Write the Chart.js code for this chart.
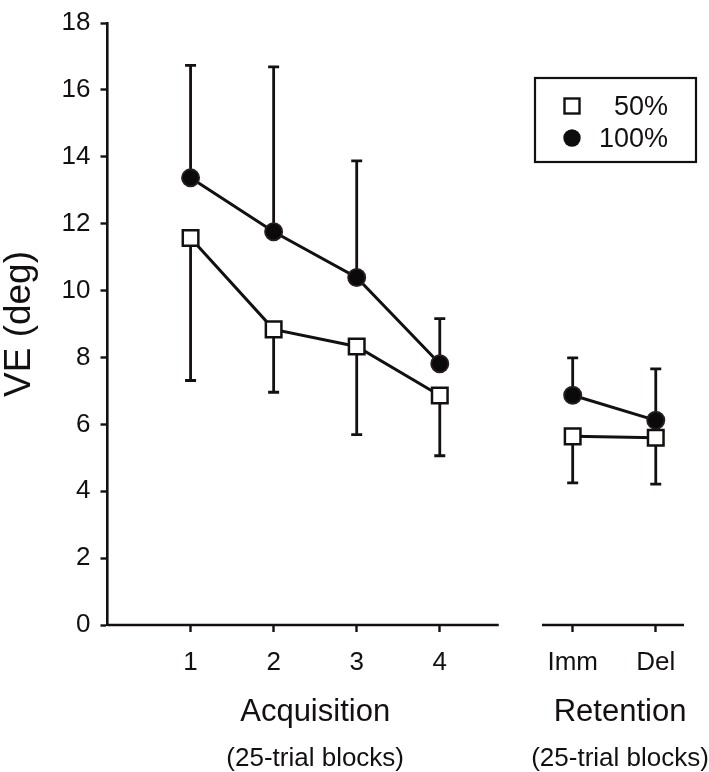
<!DOCTYPE html>
<html>
<head>
<meta charset="utf-8">
<script src="https://cdn.jsdelivr.net/npm/chart.js@4.4.0/dist/chart.umd.min.js"></script>
<style>
  html, body { margin: 0; padding: 0; background: #fff; }
</style>
</head>
<body>
<canvas id="veChart" width="709" height="772"></canvas>
<script>
// blocks on the x axis and where they sit on the (linear) block scale
const blocks = ['1', '2', '3', '4', 'Imm', 'Del'];
const blockPos = [1, 2, 3, 4, 5.6, 6.6];
const yTicks = [0, 2, 4, 6, 8, 10, 12, 14, 16, 18];

// VE (deg), 50% group: means and lower error ends
const ve50 = [11.57, 8.84, 8.33, 6.86, 5.64, 5.60];
const ve50Low = [7.31, 6.96, 5.69, 5.06, 4.25, 4.21];

// VE (deg), 100% group: means and upper error ends
const ve100 = [13.37, 11.76, 10.39, 7.81, 6.87, 6.12];
const ve100High = [16.73, 16.69, 13.88, 9.16, 7.99, 7.66];

const INK = '#141010';
const FONT = "'Liberation Sans', Arial, sans-serif";

const toPoints = vals => vals.map((v, i) => ({ x: blockPos[i], y: v }));
// no line between block 4 and the retention tests
const gapAfterAcq = { borderColor: c => c.p0DataIndex === 3 ? 'rgba(0,0,0,0)' : INK };

// error bars, drawn under the markers
const errorBars = {
    id: 'errorBars',
    beforeDatasetsDraw(chart) {
        const { ctx, scales: { x, y } } = chart;
        ctx.save();
        ctx.strokeStyle = INK;
        ctx.lineWidth = 2.8;
        const draw = (means, ends) => means.forEach((m, i) => {
            const px = x.getPixelForValue(blockPos[i]);
            const y0 = y.getPixelForValue(m);
            const y1 = y.getPixelForValue(ends[i]);
            ctx.beginPath();
            ctx.moveTo(px, y0);
            ctx.lineTo(px, y1);
            ctx.moveTo(px - 5.5, y1);
            ctx.lineTo(px + 5.5, y1);
            ctx.stroke();
        });
        draw(ve50, ve50Low);
        draw(ve100, ve100High);
        ctx.restore();
    }
};

// broken x axis plus the two group titles
const axisPieces = [[0, 4.71], [5.23, 6.94]];
const xTitles = {
    id: 'xTitles',
    afterDraw(chart) {
        const { ctx, scales: { x, y } } = chart;
        const base = y.getPixelForValue(0);
        ctx.save();
        ctx.strokeStyle = INK;
        ctx.lineWidth = 2.6;
        axisPieces.forEach(([a, b]) => {
            ctx.beginPath();
            ctx.moveTo(x.getPixelForValue(a), base);
            ctx.lineTo(x.getPixelForValue(b), base);
            ctx.stroke();
        });
        ctx.fillStyle = INK;
        ctx.textAlign = 'center';
        ctx.textBaseline = 'alphabetic';
        [['Acquisition', 2.5], ['Retention', 6.17]].forEach(([t, v]) => {
            const px = x.getPixelForValue(v);
            ctx.font = '31px ' + FONT;
            ctx.fillText(t, px, 721);
            ctx.font = '26px ' + FONT;
            ctx.fillText('(25-trial blocks)', px, 766);
        });
        ctx.restore();
    }
};

// boxed legend, top right
const boxLegend = {
    id: 'boxLegend',
    afterDraw(chart) {
        const ctx = chart.ctx;
        ctx.save();
        ctx.strokeStyle = INK;
        ctx.lineWidth = 2.2;
        ctx.strokeRect(535, 78, 161, 84);
        // square
        ctx.fillStyle = '#fff';
        ctx.lineWidth = 2.4;
        ctx.fillRect(564.5, 98.5, 15, 15);
        ctx.strokeRect(564.5, 98.5, 15, 15);
        // circle
        ctx.beginPath();
        ctx.arc(572, 138, 8.7, 0, Math.PI * 2);
        ctx.fillStyle = '#0d0d0d';
        ctx.fill();
        ctx.fillStyle = INK;
        ctx.font = '27px ' + FONT;
        ctx.textAlign = 'right';
        ctx.textBaseline = 'alphabetic';
        chart.data.datasets.forEach((ds, i) => ctx.fillText(ds.label, 668, 115 + i * 32));
        ctx.restore();
    }
};

const ctx = document.getElementById('veChart').getContext('2d');
new Chart(ctx, {
    type: 'line',
    data: {
        datasets: [{
            label: '50%',
            data: toPoints(ve50),
            borderColor: INK,
            borderWidth: 3,
            segment: gapAfterAcq,
            pointStyle: 'rect',
            pointRadius: 11,
            pointBorderWidth: 2.5,
            pointBackgroundColor: '#ffffff',
            pointBorderColor: INK
        }, {
            label: '100%',
            data: toPoints(ve100),
            borderColor: INK,
            borderWidth: 3,
            segment: gapAfterAcq,
            pointStyle: 'circle',
            pointRadius: 8.6,
            pointBorderWidth: 1.8,
            pointBackgroundColor: '#0a0a0a',
            pointBorderColor: '#2a1f1f'
        }]
    },
    options: {
        responsive: false,
        animation: false,
        layout: { padding: { top: 14, right: 25, left: 0, bottom: 0 } },
        plugins: {
            legend: { display: false },
            tooltip: { enabled: false }
        },
        scales: {
            x: {
                type: 'linear',
                min: 0,
                max: 6.94,
                afterBuildTicks: s => { s.ticks = blockPos.map(v => ({ value: v })); },
                afterFit: s => { s.height = 147; },
                border: { display: false },
                grid: { drawOnChartArea: false, tickLength: 7, tickWidth: 2.4, tickColor: INK },
                ticks: {
                    autoSkip: false,
                    maxRotation: 0,
                    padding: 18,
                    color: INK,
                    font: { family: FONT, size: 26, lineHeight: 1 },
                    callback: (v, i) => blocks[i]
                }
            },
            y: {
                min: 0,
                max: 18,
                afterBuildTicks: s => { s.ticks = yTicks.map(v => ({ value: v })); },
                afterFit: s => { s.width = 107.5; },
                border: { display: true, color: INK, width: 2.6 },
                grid: { drawOnChartArea: false, tickLength: 7, tickWidth: 2.4, tickColor: INK },
                ticks: {
                    padding: 10,
                    color: INK,
                    font: { family: FONT, size: 26, lineHeight: 1 }
                },
                title: {
                    display: true,
                    text: 'VE (deg)',
                    color: INK,
                    padding: { top: 1, bottom: 0 },
                    font: { family: FONT, size: 37, lineHeight: 1 }
                }
            }
        }
    },
    plugins: [errorBars, xTitles, boxLegend]
});
</script>
</body>
</html>
